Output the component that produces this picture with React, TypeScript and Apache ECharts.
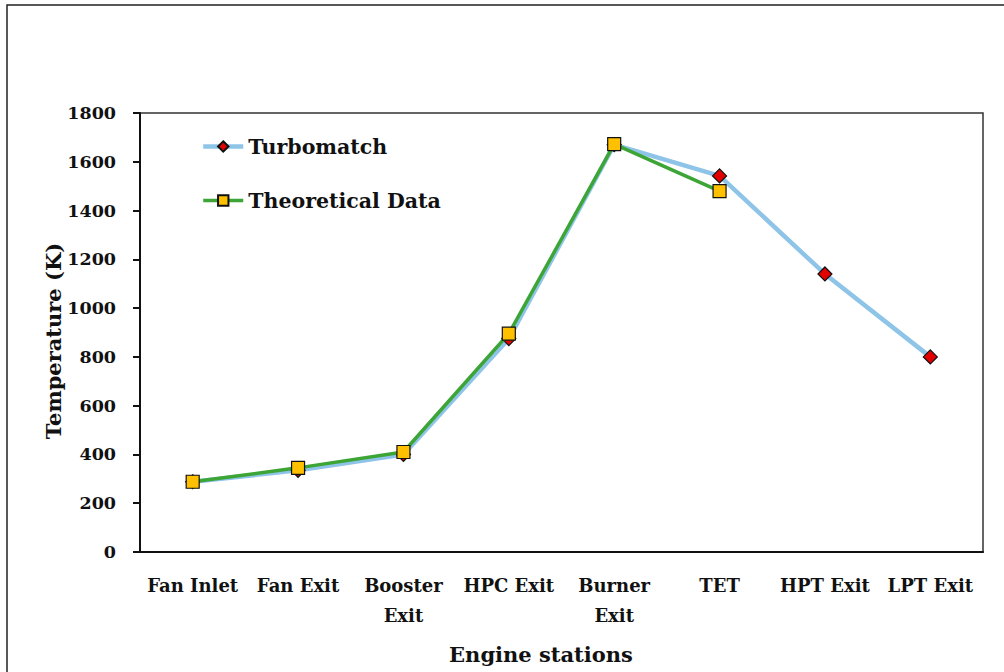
import React, { useEffect, useRef } from "react";
import * as echarts from "echarts";

const categories = ["Fan Inlet", "Fan Exit", "Booster\nExit", "HPC Exit", "Burner\nExit", "TET", "HPT Exit", "LPT Exit"];
const turbomatch = [288, 335, 400, 875, 1670, 1542, 1140, 800];
const theoretical = [288, 345, 410, 895, 1672, 1480, null, null];
const yTicks = { min: 0, max: 1800, interval: 200 };
const xTitle = "Engine stations";
const yTitle = "Temperature (K)";

const FONT = "DejaVu Serif";

export default function App() {
  const ref = useRef<HTMLDivElement>(null);
  useEffect(() => {
    document.body.style.margin = "0";
    const chart = echarts.init(ref.current!, null, { renderer: "svg" });
    chart.setOption({
      animation: false,
      backgroundColor: "#ffffff",
      graphic: [
        {
          type: "rect",
          shape: { x: 7, y: 5, width: 1010, height: 700 },
          style: { fill: "none", stroke: "#222", lineWidth: 1.5 },
          silent: true,
        },
        {
          type: "text",
          x: 541,
          y: 654,
          style: {
            text: xTitle,
            font: `bold 21px "${FONT}"`,
            fill: "#111",
            align: "center",
            verticalAlign: "middle",
          },
        },
        {
          type: "text",
          x: 53,
          y: 341,
          rotation: Math.PI / 2,
          style: {
            text: yTitle,
            font: `bold 21px "${FONT}"`,
            fill: "#111",
            align: "center",
            verticalAlign: "middle",
          },
        },
      ],
      grid: {
        left: 140,
        right: 21,
        top: 113,
        bottom: 120,
        show: true,
        borderColor: "#333",
        borderWidth: 1.5,
        backgroundColor: "transparent",
      },
      legend: {
        left: 196,
        top: 131,
        orient: "vertical",
        itemGap: 33,
        itemWidth: 40,
        itemHeight: 13,
        textStyle: { fontFamily: FONT, fontWeight: "bold", fontSize: 20.5, color: "#111" },
        data: [
          { name: "Turbomatch", lineStyle: { width: 4.5 } },
          { name: "Theoretical Data", lineStyle: { width: 3.5 } },
        ],
      },
      xAxis: {
        type: "category",
        data: categories,
        boundaryGap: true,
        axisLine: { lineStyle: { color: "#111", width: 2 } },
        axisTick: { show: false },
        axisLabel: {
          fontFamily: FONT,
          fontWeight: "bold",
          fontSize: 18,
          color: "#111",
          lineHeight: 30,
          margin: 18,
          interval: 0,
        },
      },
      yAxis: {
        type: "value",
        min: yTicks.min,
        max: yTicks.max,
        interval: yTicks.interval,
        splitLine: { show: false },
        axisLine: { show: true, lineStyle: { color: "#111", width: 2 } },
        axisTick: { show: true, length: 7, lineStyle: { color: "#111", width: 2 } },
        axisLabel: {
          fontFamily: FONT,
          fontWeight: "bold",
          fontSize: 17.5,
          color: "#111",
          margin: 24,
          formatter: (v: number) => String(v),
        },
      },
      series: [
        {
          name: "Turbomatch",
          type: "line",
          data: turbomatch,
          symbol: "diamond",
          symbolSize: 14,
          lineStyle: { color: "#8EC4E8", width: 4.5 },
          itemStyle: { color: "#E00000", borderColor: "#111", borderWidth: 1.2 },
          z: 2,
        },
        {
          name: "Theoretical Data",
          type: "line",
          data: theoretical,
          symbol: "rect",
          symbolSize: 13,
          lineStyle: { color: "#3CA535", width: 3.5 },
          itemStyle: { color: "#FFC000", borderColor: "#111", borderWidth: 1.2 },
          z: 3,
        },
      ],
    });
    return () => chart.dispose();
  }, []);
  return <div ref={ref} style={{ width: 1004, height: 672 }} />;
}
